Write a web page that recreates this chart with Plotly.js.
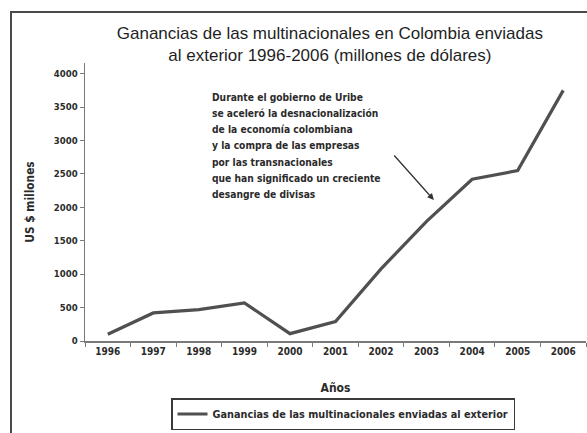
<!DOCTYPE html>
<html>
<head>
<meta charset="utf-8">
<script src="https://cdn.plot.ly/plotly-3.0.1.min.js"></script>
<style>
  html, body { margin: 0; padding: 0; background: #ffffff; }
  #frame { position: absolute; left: 10px; top: 11px; width: 620px; height: 460px;
           border-left: 2px solid #4a4a4a; border-top: 2px solid #4a4a4a; }
  #chart { position: absolute; left: 0; top: 0; width: 587px; height: 433px; }
</style>
</head>
<body>
<div id="frame"></div>
<div id="chart"></div>
<script>
// Profits sent abroad by multinationals in Colombia (US$ millions)
const years = ['1996', '1997', '1998', '1999', '2000', '2001', '2002', '2003', '2004', '2005', '2006'];
const remittances = [100, 420, 470, 570, 110, 290, 1080, 1790, 2420, 2550, 3750];
const yTicks = [0, 500, 1000, 1500, 2000, 2500, 3000, 3500, 4000];

const seriesName = 'Ganancias de las multinacionales enviadas al exterior';
const noteLines = [
  'Durante el gobierno de Uribe',
  'se aceleró la desnacionalización',
  'de la economía colombiana',
  'y la compra de las empresas',
  'por las transnacionales',
  'que han significado un creciente',
  'desangre de divisas'
];

const narrow = '"DejaVu Sans Condensed", "Liberation Sans", sans-serif';
const ink = '#2b2b2b';
const axisGray = '#7a7a7a';

const W = 587, H = 433;
const M = { l: 85, r: 1, t: 63, b: 92 };
const plotH = H - M.t - M.b;
// pixel row (from top of page) -> paper y
const paperY = px => (H - M.b - px) / plotH;

const trace = {
  x: years,
  y: remittances,
  type: 'scatter',
  mode: 'lines',
  name: seriesName,
  line: { color: '#505050', width: 3.2 },
  showlegend: true
};

// note block: one annotation per line so the line spacing can be set
const noteAnnotations = noteLines.map((line, i) => ({
  xref: 'paper', yref: 'paper',
  x: (210 - M.l) / (W - M.l - M.r),
  y: paperY(97 + i * 16.3),
  xanchor: 'left', yanchor: 'middle',
  align: 'left',
  showarrow: false,
  text: line,
  font: { family: narrow, size: 10.2, color: ink, weight: 'bold' }
}));

const layout = {
  width: W,
  height: H,
  margin: M,
  paper_bgcolor: 'rgba(0,0,0,0)',
  plot_bgcolor: 'rgba(0,0,0,0)',
  font: { family: narrow, color: ink, size: 10, weight: 'bold' },
  title: {
    text: 'Ganancias de las multinacionales en Colombia enviadas<br>al exterior 1996-2006 (millones de dólares)',
    font: { family: '"Liberation Sans", Arial, sans-serif', size: 17, color: '#1f1f1f', weight: 'normal' },
    x: 0.562, xanchor: 'center',
    yref: 'container',
    y: 1 - 38.5 / H, yanchor: 'middle'
  },
  xaxis: {
    type: 'category',
    range: [-0.5, 10.5],
    tickson: 'boundaries',
    ticks: 'outside',
    ticklen: 4,
    tickcolor: axisGray,
    showline: true,
    linecolor: axisGray,
    linewidth: 1.5,
    showgrid: false,
    zeroline: false,
    tickfont: { family: narrow, size: 10, color: ink, weight: 'bold' },
    title: { text: 'Años', font: { family: narrow, size: 12, color: ink, weight: 'bold' }, standoff: 28 },
    automargin: false
  },
  yaxis: {
    range: [0, 4160],
    tickvals: yTicks,
    ticktext: yTicks.map(String),
    ticks: 'outside',
    ticklen: 4,
    tickcolor: axisGray,
    showline: true,
    linecolor: axisGray,
    linewidth: 1.5,
    showgrid: false,
    zeroline: false,
    tickfont: { family: narrow, size: 9.5, color: ink, weight: 'bold' },
    title: { text: 'US $ millones', font: { family: narrow, size: 11.8, color: ink, weight: 'bold' }, standoff: 16 },
    automargin: false
  },
  legend: {
    orientation: 'h',
    x: 0.515, xanchor: 'center',
    y: paperY(398), yanchor: 'top',
    bordercolor: '#3a3a3a',
    borderwidth: 1.5,
    bgcolor: 'rgba(0,0,0,0)',
    font: { family: narrow, size: 10.8, color: ink, weight: 'bold' }
  },
  annotations: noteAnnotations.concat([
    {
      x: 7.16, y: 2110,
      xref: 'x', yref: 'y',
      ax: -41, ay: -46,
      showarrow: true,
      arrowhead: 2,
      arrowsize: 1,
      arrowwidth: 1.3,
      arrowcolor: '#333333',
      text: ''
    }
  ])
};

Plotly.newPlot('chart', [trace], layout, { displayModeBar: false, staticPlot: true });
</script>
</body>
</html>
